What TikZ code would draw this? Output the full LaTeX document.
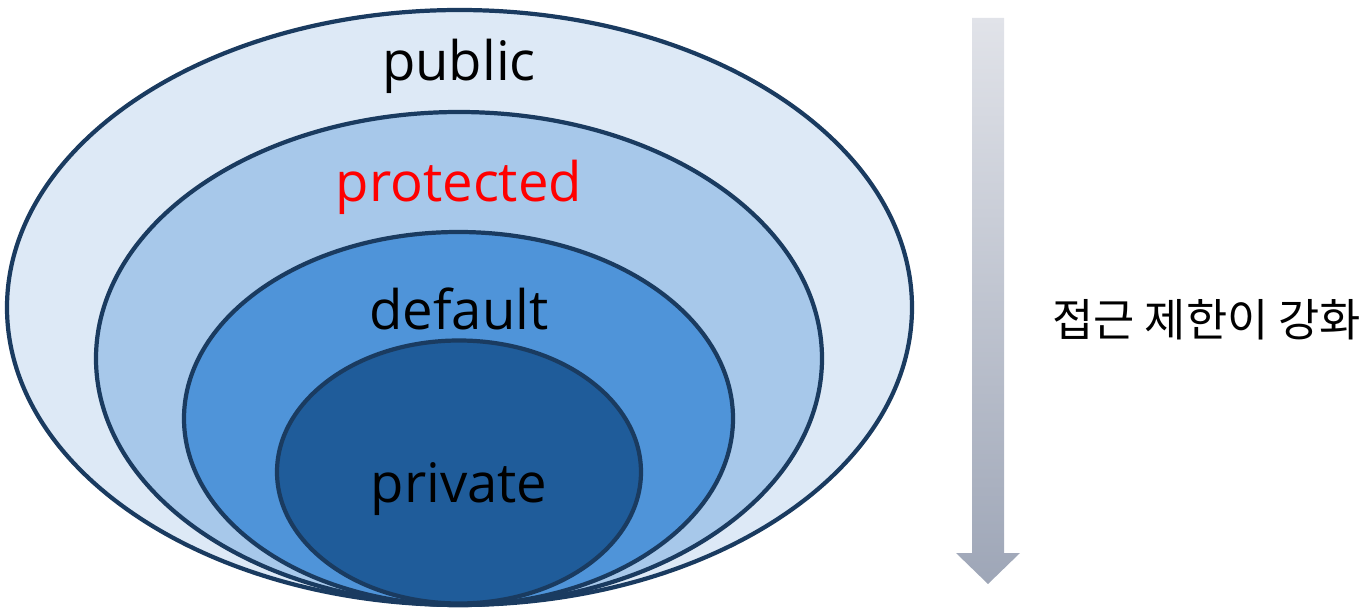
\documentclass[tikz,border=0pt]{standalone}
\usepackage{fontspec}
\setmainfont{Open Sans}
\newfontfamily\kofont{Noto Sans CJK KR}
\definecolor{cPublic}{HTML}{DDE9F6}
\definecolor{cProt}{HTML}{A7C8EA}
\definecolor{cDef}{HTML}{4F94D9}
\definecolor{cPriv}{HTML}{1F5C9A}
\definecolor{cEdge}{HTML}{1A3B60}
\definecolor{cArrTop}{HTML}{E1E3E9}
\definecolor{cArrBot}{HTML}{9EA6B7}
\tikzset{
  ring/.style={draw=cEdge, line width=2.4pt},
  lbl/.style={font=\fontsize{31}{36}\selectfont, inner sep=0pt, anchor=center},
}
\begin{document}
\begin{tikzpicture}[x=0.02cm,y=-0.02cm]
\useasboundingbox (0,0) rectangle (1367,611);
\draw[ring, fill=cPublic] (459.5,307.5) ellipse [x radius=452.5, y radius=297.5];
\draw[ring, fill=cProt] (459,358.5) ellipse [x radius=363, y radius=246.5];
\draw[ring, fill=cDef] (458.5,418.5) ellipse [x radius=274.5, y radius=186.5];
\draw[ring, fill=cPriv] (459,472) ellipse [x radius=182, y radius=131.5];
\node[lbl] (pub) at (459,66) {public};
\node[lbl, text=red] (prot) at (459,187) {protected};
\node[lbl] (def) at (459,309) {default};
\node[lbl] (priv) at (459,489) {private};
\shade[top color=cArrTop, bottom color=cArrBot] (972,18) -- (1004,18) -- (1004,553) -- (1020,553) -- (988,584) -- (956,553) -- (972,553) -- cycle;
\node[font=\kofont\fontsize{25.5}{30}\selectfont, inner sep=0pt, anchor=west] (lab) at (1052,320) {접근 제한이 강화};
\end{tikzpicture}
\end{document}
